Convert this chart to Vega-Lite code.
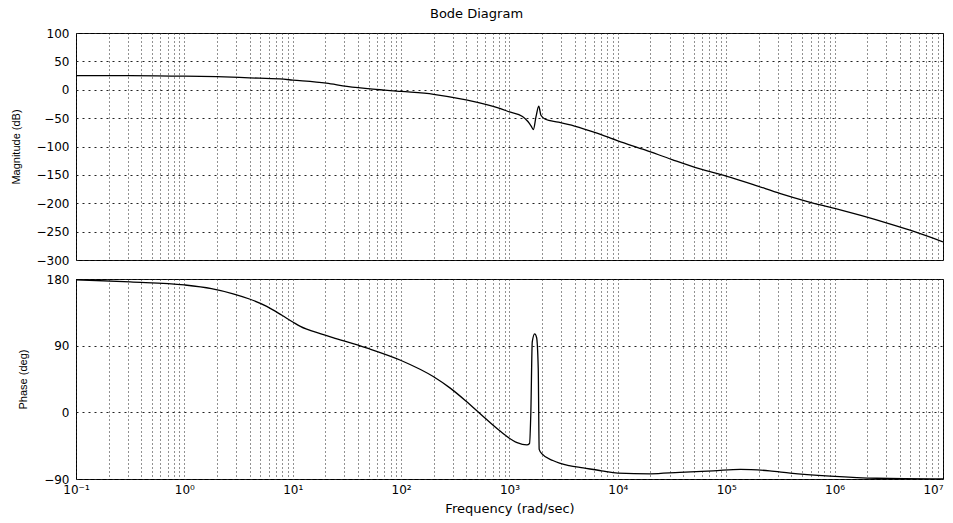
{
  "$schema": "https://vega.github.io/schema/vega-lite/v6.json",
  "background": "white",
  "padding": {"left": 9, "top": 7, "right": 10, "bottom": 2},
  "title": {"text": "Bode Diagram", "font": "DejaVu Sans", "fontSize": 13, "fontWeight": "normal", "color": "#000", "offset": 6, "anchor": "middle"},
  "spacing": 5,
  "config": {
    "view": {"stroke": "#000", "strokeWidth": 1},
    "axis": {
      "labelFont": "DejaVu Sans",
      "labelFontSize": 12,
      "labelColor": "#000",
      "titleFont": "Liberation Sans",
      "titleFontSize": 11,
      "titleFontWeight": "normal",
      "titleColor": "#000",
      "gridColor": "#222",
      "gridOpacity": 1,
      "gridWidth": 1,
      "ticks": false,
      "domain": false,
      "labelOverlap": false,
      "labelFlush": false,
      "labelBound": false
    }
  },
  "datasets": {
    "magnitude": [
      {"freq": 0.1, "magnitude": 25},
      {"freq": 0.3162, "magnitude": 25},
      {"freq": 1, "magnitude": 24},
      {"freq": 1.995, "magnitude": 23},
      {"freq": 3.981, "magnitude": 21},
      {"freq": 7.586, "magnitude": 19},
      {"freq": 10, "magnitude": 17},
      {"freq": 20.42, "magnitude": 11.5},
      {"freq": 31.62, "magnitude": 6},
      {"freq": 54.95, "magnitude": 1},
      {"freq": 100, "magnitude": -3},
      {"freq": 199.5, "magnitude": -8},
      {"freq": 398.1, "magnitude": -18},
      {"freq": 812.8, "magnitude": -33},
      {"freq": 1000, "magnitude": -39},
      {"freq": 1318, "magnitude": -47},
      {"freq": 1479, "magnitude": -56},
      {"freq": 1585, "magnitude": -64},
      {"freq": 1660, "magnitude": -70},
      {"freq": 1758, "magnitude": -47},
      {"freq": 1862, "magnitude": -29},
      {"freq": 1950, "magnitude": -45},
      {"freq": 2138, "magnitude": -52},
      {"freq": 2818, "magnitude": -57},
      {"freq": 3981, "magnitude": -64},
      {"freq": 6310, "magnitude": -76},
      {"freq": 10000, "magnitude": -90},
      {"freq": 17783, "magnitude": -106},
      {"freq": 31623, "magnitude": -123},
      {"freq": 56234, "magnitude": -139},
      {"freq": 100000, "magnitude": -152},
      {"freq": 177828, "magnitude": -167},
      {"freq": 316228, "magnitude": -183},
      {"freq": 562341, "magnitude": -197},
      {"freq": 1000000, "magnitude": -209},
      {"freq": 1778279, "magnitude": -222},
      {"freq": 3162278, "magnitude": -236},
      {"freq": 5623413, "magnitude": -251},
      {"freq": 10000000, "magnitude": -268}
    ],
    "phase": [
      {"freq": 0.1, "phase": 179},
      {"freq": 0.3162, "phase": 176},
      {"freq": 1, "phase": 172},
      {"freq": 1.778, "phase": 167},
      {"freq": 2.818, "phase": 160},
      {"freq": 3.981, "phase": 153},
      {"freq": 5.754, "phase": 143},
      {"freq": 7.943, "phase": 131},
      {"freq": 10, "phase": 122},
      {"freq": 11.75, "phase": 116},
      {"freq": 18.2, "phase": 106},
      {"freq": 23.44, "phase": 101},
      {"freq": 47.86, "phase": 87},
      {"freq": 100, "phase": 70},
      {"freq": 199.5, "phase": 48},
      {"freq": 281.8, "phase": 33},
      {"freq": 398.1, "phase": 15},
      {"freq": 575.4, "phase": -6},
      {"freq": 812.8, "phase": -25},
      {"freq": 1175, "phase": -41},
      {"freq": 1445, "phase": -44},
      {"freq": 1531, "phase": -42},
      {"freq": 1574, "phase": 0},
      {"freq": 1622, "phase": 95},
      {"freq": 1706, "phase": 106},
      {"freq": 1778, "phase": 101},
      {"freq": 1841, "phase": 60},
      {"freq": 1879, "phase": -50},
      {"freq": 1995, "phase": -56},
      {"freq": 2512, "phase": -65},
      {"freq": 3548, "phase": -72},
      {"freq": 4786, "phase": -75},
      {"freq": 7079, "phase": -79},
      {"freq": 10000, "phase": -82},
      {"freq": 19953, "phase": -83},
      {"freq": 37154, "phase": -81},
      {"freq": 75858, "phase": -79},
      {"freq": 134896, "phase": -77},
      {"freq": 251189, "phase": -79},
      {"freq": 389045, "phase": -82},
      {"freq": 912011, "phase": -86},
      {"freq": 2454709, "phase": -89},
      {"freq": 10000000, "phase": -90}
    ]
  },
  "vconcat": [
    {
      "width": 867,
      "height": 227,
      "data": {"name": "magnitude"},
      "mark": {"type": "line", "color": "#000", "strokeWidth": 1.3, "clip": true, "interpolate": "monotone"},
      "encoding": {
        "x": {
          "field": "freq",
          "type": "quantitative",
          "scale": {"type": "log", "domain": [0.1, 10000000], "nice": false},
          "axis": {
            "title": null,
            "labels": false,
            "gridDash": [1, 3],
            "values": [0.1, 0.2, 0.3, 0.4, 0.5, 0.6, 0.7, 0.8, 0.9, 1, 2, 3, 4, 5, 6, 7, 8, 9, 10, 20, 30, 40, 50, 60, 70, 80, 90, 100, 200, 300, 400, 500, 600, 700, 800, 900, 1000, 2000, 3000, 4000, 5000, 6000, 7000, 8000, 9000, 10000, 20000, 30000, 40000, 50000, 60000, 70000, 80000, 90000, 100000, 200000, 300000, 400000, 500000, 600000, 700000, 800000, 900000, 1000000, 2000000, 3000000, 4000000, 5000000, 6000000, 7000000, 8000000, 9000000, 10000000]
          }
        },
        "y": {
          "field": "magnitude",
          "type": "quantitative",
          "scale": {"domain": [-300, 100], "nice": false},
          "axis": {
            "title": "Magnitude (dB)",
            "values": [-300, -250, -200, -150, -100, -50, 0, 50, 100],
            "gridDash": [2, 4],
            "labelPadding": 7,
            "titlePadding": 15
          }
        }
      }
    },
    {
      "width": 867,
      "height": 200,
      "data": {"name": "phase"},
      "mark": {"type": "line", "color": "#000", "strokeWidth": 1.3, "clip": true, "interpolate": "monotone"},
      "encoding": {
        "x": {
          "field": "freq",
          "type": "quantitative",
          "scale": {"type": "log", "domain": [0.1, 10000000], "nice": false},
          "axis": {
            "title": "Frequency (rad/sec)",
            "titleFont": "DejaVu Sans",
            "titleFontSize": 13,
            "titlePadding": 7,
            "labelPadding": 5,
            "labelAlign": {"condition": {"test": "datum.value >= 9999999", "value": "right"}, "value": "center"},
            "gridDash": [1, 3],
            "values": [0.1, 0.2, 0.3, 0.4, 0.5, 0.6, 0.7, 0.8, 0.9, 1, 2, 3, 4, 5, 6, 7, 8, 9, 10, 20, 30, 40, 50, 60, 70, 80, 90, 100, 200, 300, 400, 500, 600, 700, 800, 900, 1000, 2000, 3000, 4000, 5000, 6000, 7000, 8000, 9000, 10000, 20000, 30000, 40000, 50000, 60000, 70000, 80000, 90000, 100000, 200000, 300000, 400000, 500000, 600000, 700000, 800000, 900000, 1000000, 2000000, 3000000, 4000000, 5000000, 6000000, 7000000, 8000000, 9000000, 10000000],
            "labelExpr": "abs(log(datum.value) / LN10 - round(log(datum.value) / LN10)) < 0.001 ? ['10⁻¹', '10⁰', '10¹', '10²', '10³', '10⁴', '10⁵', '10⁶', '10⁷'][round(log(datum.value) / LN10) + 1] : ''"
          }
        },
        "y": {
          "field": "phase",
          "type": "quantitative",
          "scale": {"domain": [-90, 180], "nice": false},
          "axis": {
            "title": "Phase (deg)",
            "values": [-90, 0, 90, 180],
            "gridDash": [2, 4],
            "labelPadding": 7,
            "titlePadding": 15
          }
        }
      }
    }
  ]
}
